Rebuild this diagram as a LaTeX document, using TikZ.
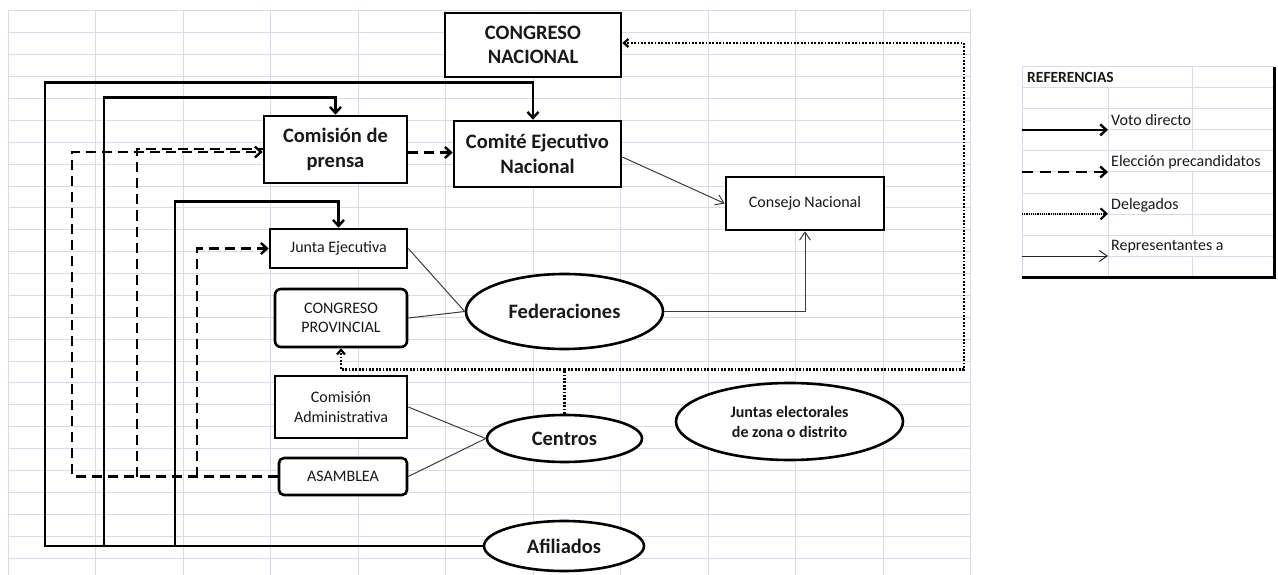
\documentclass[tikz,border=0pt]{standalone}
\usepackage{fontspec}
\setmainfont{Carlito}
\usetikzlibrary{arrows.meta,shapes.geometric,calc}
\definecolor{gridc}{RGB}{216,219,229}
\definecolor{txt}{RGB}{25,25,25}
\definecolor{thin}{RGB}{60,60,60}
\begin{document}
\begin{tikzpicture}[x=1pt,y=-1pt,
  box/.style={draw=black,line width=2.6pt,fill=white,inner sep=0pt,text=txt,align=center},
  rbox/.style={box,rounded corners=6pt},
  oval/.style={ellipse,draw=black,line width=2.6pt,fill=white,inner sep=0pt,text=txt,align=center},
  bigf/.style={font=\fontsize{20.5}{24.5}\selectfont\bfseries},
  smallf/.style={font=\fontsize{16}{19.5}\selectfont},
  midb/.style={font=\fontsize{16}{20}\selectfont\bfseries},
  votol/.style={line width=2.4pt},
  elecl/.style={line width=2.4pt,dash pattern=on 10pt off 6pt},
  delegl/.style={line width=2.2pt,dash pattern=on 1.8pt off 1.6pt},
  reprl/.style={line width=1pt,draw=thin},
  tipT/.style={-{Straight Barb[length=6pt,width=11pt]}},
  tipD/.style={-{Straight Barb[length=4.5pt,width=8pt]}},
  tipR/.style={-{Straight Barb[length=8pt,width=11pt]}},
  legt/.style={anchor=west,inner sep=0pt,text=txt,font=\fontsize{16}{19.5}\selectfont}
]
\useasboundingbox (0,0) rectangle (1278,575);
\fill[white] (0,0) rectangle (1278,575);

% spreadsheet grid
\foreach \i in {0,...,11} {
  \draw[gridc,line width=1pt] ({8+87.5*\i},11) -- ({8+87.5*\i},575);
}
\foreach \j in {0,...,25} {
  \draw[gridc,line width=1pt] (8,{11+21.88*\j}) -- (971,{11+21.88*\j});
}

% nodes
\node[box,bigf,minimum width=176pt,minimum height=64pt] (CN) at (533,45) {CONGRESO\\NACIONAL};
\node[box,bigf,minimum width=143pt,minimum height=67pt] (CP) at (335.5,149.5) {Comisión de\\prensa};
\node[box,bigf,minimum width=167pt,minimum height=66pt] (CEN) at (537.5,154) {Comité Ejecutivo\\Nacional};
\node[box,smallf,minimum width=158pt,minimum height=53pt] (CONS) at (805,203.5) {Consejo Nacional};
\node[box,smallf,minimum width=137pt,minimum height=39pt] (JE) at (338.5,248.5) {Junta Ejecutiva};
\node[rbox,smallf,minimum width=132pt,minimum height=58pt] (PROV) at (341,318) {CONGRESO\\PROVINCIAL};
\node[box,smallf,minimum width=132pt,minimum height=62pt] (CA) at (341,407) {Comisión\\Administrativa};
\node[rbox,smallf,minimum width=128pt,minimum height=37pt,rounded corners=5pt] (ASAM) at (343,476.5) {ASAMBLEA};
\node[oval,bigf,minimum width=197pt,minimum height=75pt] (FED) at (564.5,311.5) {Federaciones};
\node[oval,bigf,minimum width=155pt,minimum height=47pt] (CEN2) at (564.5,438.5) {Centros};
\node[oval,bigf,minimum width=160pt,minimum height=50pt] (AFI) at (564,546) {Afiliados};
\node[oval,midb,minimum width=227pt,minimum height=77pt] (JUN) at (789.5,421.5) {Juntas electorales\\de zona o distrito};

% junction coordinates
\coordinate (v45) at (45,546);
\coordinate (v104) at (104,546);
\coordinate (v175) at (175,546);
\coordinate (k72) at (72,476.5);
\coordinate (k137) at (137,476.5);
\coordinate (k197) at (197,476.5);
\coordinate (dm) at (564.5,369.5);
\coordinate (dr) at (964,369.5);

% voto directo
\draw[votol,tipT] (AFI.west) -- (v45) |- ([xshift=-4.5pt,yshift=37pt]CEN.north) -- ([xshift=-4.5pt]CEN.north);
\draw[votol,tipT] (v104) |- ([yshift=17pt]CP.north) -- (CP.north);
\draw[votol,tipT] (v175) |- ([yshift=26pt]JE.north) -- (JE.north);

% eleccion precandidatos
\draw[elecl] (k137) |- ([yshift=0.5pt]CP.west);
\draw[elecl,tipT] (ASAM.west) -- (k72) |- ([yshift=-2.5pt]CP.west);
\draw[elecl,tipT] (k197) |- (JE.west);
\draw[elecl] (ASAM.west) -- (k197);
\draw[elecl,tipT] ([yshift=-3pt]CP.east) -- ([yshift=-3pt]CP.east -| CEN.west);

% representantes
\draw[reprl,tipR] ([yshift=-3pt]CEN.east) -- (CONS.west);
\draw[reprl,tipR] (FED.east) -| (CONS.south);
\draw[reprl] (JE.east) -- (FED.west);
\draw[reprl] (PROV.east) -- (FED.west);
\draw[reprl] (CA.east) -- (CEN2.west);
\draw[reprl] (ASAM.east) -- (CEN2.west);

% delegados
\draw[delegl] (CEN2.north) -- (dm);
\draw[delegl,tipD] (dm) -| (PROV.south);
\draw[delegl,tipD] (dm) -- (dr) |- ([yshift=2pt]CN.east);

% legend
\foreach \y in {66.7,87.3,108.3,129.3,150.7,171.7,193.3,214.3,235,256} {
  \draw[gridc,line width=1pt] (1022,\y) -- (1274,\y);
}
\draw[gridc,line width=1pt] (1022,66.7) -- (1022,277.7);
\draw[gridc,line width=1pt] (1108,87.3) -- (1108,277.7);
\draw[gridc,line width=1pt] (1192,66.7) -- (1192,150.7);
\draw[gridc,line width=1pt] (1192,171.7) -- (1192,235);
\draw[gridc,line width=1pt] (1192,256) -- (1192,277.7);
\draw[black,line width=3pt] (1022,277.7) -- (1274.5,277.7) -- (1274.5,66.7);

\node[legt,font=\fontsize{15.5}{19}\selectfont\bfseries] (REF) at (1027,77.3) {REFERENCIAS};
\node[legt] (L1) at (1111,120.5) {Voto directo};
\node[legt] (L2) at (1111,162.5) {Elección precandidatos};
\node[legt] (L3) at (1111,205) {Delegados};
\node[legt] (L4) at (1111,246.5) {Representantes a};

\coordinate (a1) at (1022,129.8);
\coordinate (b1) at (1108,129.8);
\coordinate (a2) at (1022,172);
\coordinate (b2) at (1108,172);
\coordinate (a3) at (1022,213.8);
\coordinate (b3) at (1108,213.8);
\coordinate (a4) at (1022,256);
\coordinate (b4) at (1108,256);
\draw[votol,tipT] (a1) -- (b1);
\draw[elecl,tipT,dash pattern=on 11pt off 7pt] (a2) -- (b2);
\draw[delegl,tipT,dash pattern=on 1.2pt off 1pt,line width=2pt] (a3) -- (b3);
\draw[reprl,draw=black!85,tipR] (a4) -- (b4);
\end{tikzpicture}
\end{document}
